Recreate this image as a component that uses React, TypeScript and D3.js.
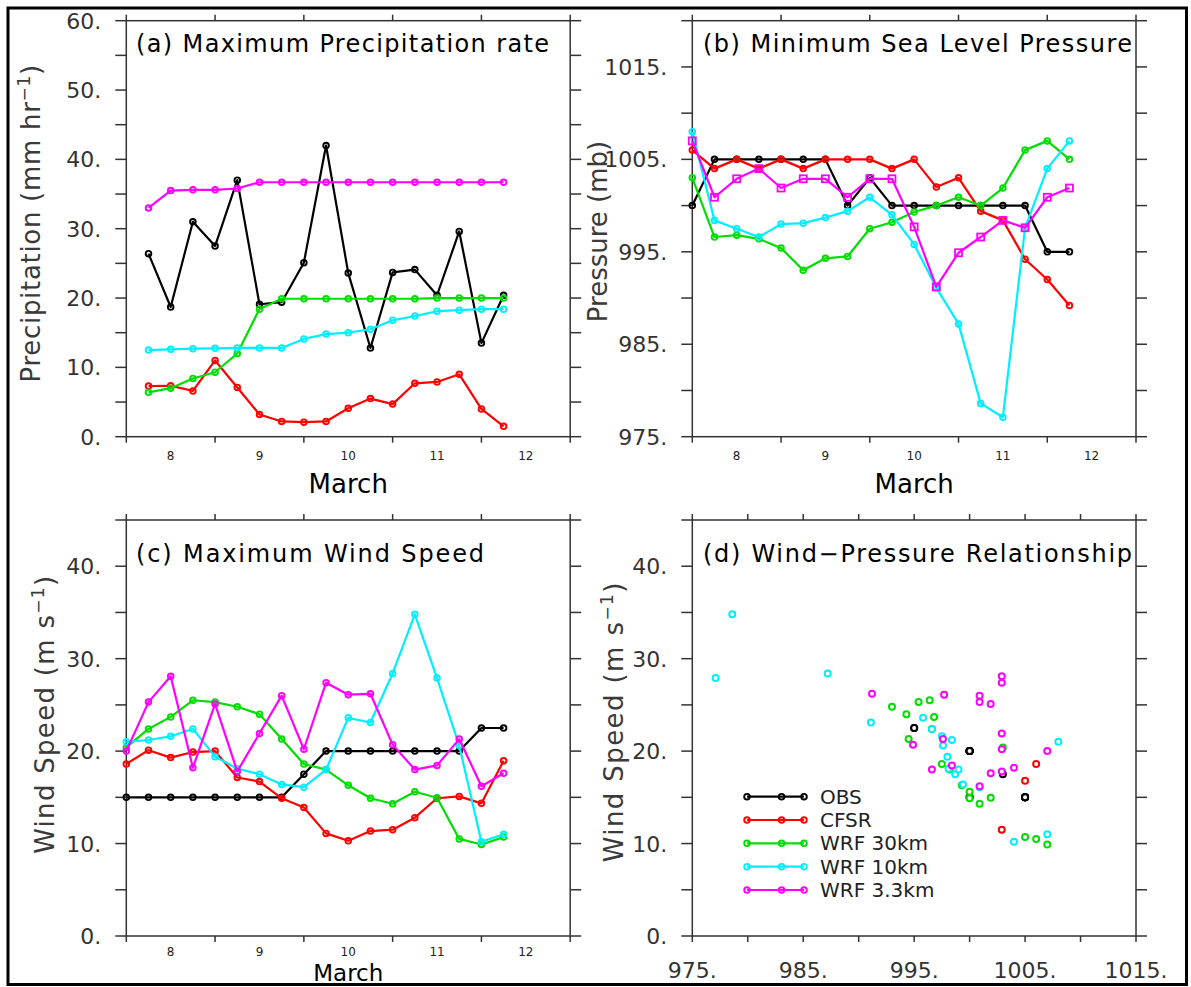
import React from 'react';
import * as d3 from 'd3';

// time axis in days of March, 6-hourly
const precipTimes = [7.75, 8.0, 8.25, 8.5, 8.75, 9.0, 9.25, 9.5, 9.75, 10.0, 10.25, 10.5, 10.75, 11.0, 11.25, 11.5, 11.75];
const stormTimes = [7.5, 7.75, 8.0, 8.25, 8.5, 8.75, 9.0, 9.25, 9.5, 9.75, 10.0, 10.25, 10.5, 10.75, 11.0, 11.25, 11.5, 11.75];
const dayLabels = [8, 9, 10, 11, 12];
const dayTicks = [7.5, 8.5, 9.5, 10.5, 11.5, 12.5];

const seriesNames = ['OBS', 'CFSR', 'WRF 30km', 'WRF 10km', 'WRF 3.3km'];
const seriesColors = ['#000000', '#ff0000', '#00dd00', '#00eeff', '#ff00ff'];

// (a) max precipitation rate, mm/hr
const obsPrecip = [26.4, 18.7, 31.0, 27.5, 37.0, 19.1, 19.4, 25.1, 42.0, 23.6, 12.8, 23.7, 24.1, 20.4, 29.6, 13.5, 20.4];
const cfsrPrecip = [7.3, 7.35, 6.6, 11.0, 7.1, 3.2, 2.2, 2.1, 2.2, 4.1, 5.5, 4.7, 7.7, 7.9, 9.0, 4.0, 1.5];
const wrf30Precip = [6.4, 7.0, 8.4, 9.3, 12.0, 18.4, 19.9, 19.9, 19.9, 19.9, 19.9, 19.9, 19.9, 20.0, 20.0, 20.0, 20.0];
const wrf10Precip = [12.5, 12.6, 12.7, 12.75, 12.8, 12.8, 12.8, 14.1, 14.8, 15.0, 15.5, 16.8, 17.4, 18.1, 18.25, 18.4, 18.4];
const wrf33Precip = [33.0, 35.5, 35.6, 35.6, 35.8, 36.7, 36.7, 36.7, 36.7, 36.7, 36.7, 36.7, 36.7, 36.7, 36.7, 36.7, 36.7];

// (b) minimum sea level pressure, mb
const obsPres = [1000, 1005, 1005, 1005, 1005, 1005, 1005, 1000, 1003, 1000, 1000, 1000, 1000, 1000, 1000, 1000, 995, 995];
const cfsrPres = [1006.0, 1004, 1005, 1004, 1005, 1004, 1005, 1005, 1005, 1004, 1005, 1002, 1003, 999.4, 998.4, 994.2, 992.0, 989.2];
const wrf30Pres = [1003.0, 996.6, 996.8, 996.4, 995.4, 993.0, 994.3, 994.5, 997.5, 998.2, 999.3, 1000, 1000.9, 1000, 1001.9, 1006, 1007, 1005];
const wrf10Pres = [1008.0, 998.4, 997.5, 996.6, 998.0, 998.1, 998.7, 999.4, 1000.9, 999.0, 995.8, 991.1, 987.2, 978.6, 977.1, 997.6, 1004.0, 1007.0];
const wrf33Pres = [1007, 1000.9, 1002.9, 1004, 1001.9, 1002.9, 1002.9, 1000.9, 1002.9, 1002.9, 997.7, 991.2, 994.9, 996.6, 998.4, 997.6, 1000.9, 1001.9];

// (c) maximum wind speed, m/s
const obsWind = [15, 15, 15, 15, 15, 15, 15, 15, 17.5, 20, 20, 20, 20, 20, 20, 20, 22.5, 22.5];
const cfsrWind = [18.6, 20.1, 19.3, 19.9, 20.0, 17.15, 16.7, 14.9, 13.9, 11.1, 10.3, 11.35, 11.5, 12.8, 14.9, 15.1, 14.35, 18.95];
const wrf30Wind = [20.4, 22.4, 23.7, 25.5, 25.3, 24.8, 24.0, 21.3, 18.6, 18.0, 16.3, 14.9, 14.3, 15.6, 14.95, 10.5, 9.9, 10.7];
const wrf10Wind = [21.0, 21.2, 21.6, 22.4, 19.4, 18.1, 17.5, 16.4, 16.1, 18.0, 23.6, 23.1, 28.4, 34.8, 27.9, 20.6, 10.2, 11.0];
const wrf33Wind = [20.0, 25.3, 28.1, 18.2, 25.1, 17.8, 21.9, 26.0, 20.2, 27.4, 26.1, 26.2, 20.7, 18.0, 18.45, 21.3, 16.2, 17.6];

// (d) CFSR points shown in the scatter
const cfsrScatterPres = [1006.0, 1005.0, 1002.9];
const cfsrScatterWind = [18.6, 16.8, 11.5];

const precipLabels = [0, 10, 20, 30, 40, 50, 60];
const pressureLabels = [975, 985, 995, 1005, 1015];
const windLabels = [0, 10, 20, 30, 40];

const FONT = '"DejaVu Sans", Verdana, sans-serif';
const AXIS = '#333';

const boxA = { l: 126.3, r: 570.2, t: 20.7, b: 436.7 };
const boxB = { l: 692.3, r: 1136, t: 20.7, b: 436.7 };
const boxC = { l: 126.3, r: 570.2, t: 520, b: 936 };
const boxD = { l: 692.3, r: 1136, t: 520, b: 936 };

type Box = typeof boxA;
type Scale = d3.ScaleLinear<number, number>;

const Frame: React.FC<{ box: Box; x: Scale; y: Scale; xTicks: number[]; yTicks: number[] }> = ({ box, x, y, xTicks, yTicks }) => (
  <g stroke={AXIS} strokeWidth={1.5} fill="none">
    <rect x={box.l} y={box.t} width={box.r - box.l} height={box.b - box.t} />
    {xTicks.map(v => (
      <g key={'x' + v}>
        <line x1={x(v)} x2={x(v)} y1={box.b} y2={box.b + 6} />
        <line x1={x(v)} x2={x(v)} y1={box.t} y2={box.t - 6} />
      </g>
    ))}
    {yTicks.map(v => (
      <g key={'y' + v}>
        <line x1={box.l - 11} x2={box.l} y1={y(v)} y2={y(v)} />
        <line x1={box.r} x2={box.r + 11} y1={y(v)} y2={y(v)} />
      </g>
    ))}
  </g>
);

const YLabels: React.FC<{ box: Box; y: Scale; values: number[] }> = ({ box, y, values }) => (
  <g fontFamily={FONT} fontSize={22} fill={AXIS} textAnchor="end">
    {values.map(v => (
      <text key={v} x={box.l - 25} y={y(v) + 8}>{v}.</text>
    ))}
  </g>
);

const DayLabels: React.FC<{ box: Box; x: Scale; dy?: number }> = ({ box, x, dy = 23 }) => (
  <g fontFamily={FONT} fontSize={12} fill="#222" textAnchor="middle">
    {dayLabels.map(d => (
      <text key={d} x={x(d)} y={box.b + dy}>{d}</text>
    ))}
  </g>
);

const Series: React.FC<{ times: number[]; values: number[]; x: Scale; y: Scale; color: string; square?: boolean }> = ({ times, values, x, y, color, square }) => {
  const line = d3.line<number>().x((_, i) => x(times[i])).y(d => y(d));
  return (
    <g>
      <path d={line(values) || ''} fill="none" stroke={color} strokeWidth={2.2} strokeLinejoin="round" />
      {values.map((v, i) =>
        square ? (
          <rect key={i} x={x(times[i]) - 3.5} y={y(v) - 3.5} width={7} height={7} fill="none" stroke={color} strokeWidth={1.8} />
        ) : (
          <circle key={i} cx={x(times[i])} cy={y(v)} r={2.8} fill="none" stroke={color} strokeWidth={1.9} />
        )
      )}
    </g>
  );
};

const Title: React.FC<{ x: number; y: number; len: number; text: string }> = ({ x, y, len, text }) => (
  <text x={x} y={y} fontFamily={FONT} fontSize={24} fill="#000" textLength={len} lengthAdjust="spacing">{text}</text>
);

const YTitle: React.FC<{ x: number; y: number; main: string; sup?: string; tail?: string; spacing: number }> = ({ x, y, main, sup, tail, spacing }) => (
  <text transform={`translate(${x},${y}) rotate(-90)`} textAnchor="middle" fontFamily={FONT} fontSize={26} fill="#3a3a3a" letterSpacing={spacing}>
    {main}
    {sup && <tspan dy={-10} fontSize={17}>{sup}</tspan>}
    {tail && <tspan dy={sup ? 10 : 0}>{tail}</tspan>}
  </text>
);

const App: React.FC = () => {
  const xA = d3.scaleLinear().domain([7.5, 12.5]).range([boxA.l, boxA.r]);
  const yA = d3.scaleLinear().domain([0, 60]).range([boxA.b, boxA.t]);
  const xB = d3.scaleLinear().domain([7.5, 12.5]).range([boxB.l, boxB.r]);
  const yB = d3.scaleLinear().domain([975, 1020]).range([boxB.b, boxB.t]);
  const xC = d3.scaleLinear().domain([7.5, 12.5]).range([boxC.l, boxC.r]);
  const yC = d3.scaleLinear().domain([0, 45]).range([boxC.b, boxC.t]);
  const xD = d3.scaleLinear().domain([975, 1015]).range([boxD.l, boxD.r]);
  const yD = d3.scaleLinear().domain([0, 45]).range([boxD.b, boxD.t]);

  const precip = [obsPrecip, cfsrPrecip, wrf30Precip, wrf10Precip, wrf33Precip];
  const pres = [obsPres, cfsrPres, wrf30Pres, wrf10Pres, wrf33Pres];
  const wind = [obsWind, cfsrWind, wrf30Wind, wrf10Wind, wrf33Wind];
  const scatterPres = [obsPres, cfsrScatterPres, wrf30Pres, wrf10Pres, wrf33Pres];
  const scatterWind = [obsWind, cfsrScatterWind, wrf30Wind, wrf10Wind, wrf33Wind];

  const legendY = [796.7, 820, 843.3, 866.7, 890];
  const legendMarks = [747, 781.6, 804];

  return (
    <div style={{ position: 'absolute', left: 0, top: 0 }}>
      <svg width={1191} height={987} style={{ display: 'block', background: '#fff' }}>
        <rect x={8} y={8} width={1178.5} height={976.5} fill="none" stroke="#000" strokeWidth={3} />

        {/* (a) precipitation */}
        <Frame box={boxA} x={xA} y={yA} xTicks={dayTicks} yTicks={d3.range(0, 61, 5)} />
        <YLabels box={boxA} y={yA} values={precipLabels} />
        <DayLabels box={boxA} x={xA} />
        {precip.map((vals, i) => (
          <Series key={i} times={precipTimes} values={vals} x={xA} y={yA} color={seriesColors[i]} />
        ))}
        <Title x={136} y={52} len={413} text="(a) Maximum Precipitation rate" />
        <YTitle x={40} y={223.3} main="Precipitation (mm hr" sup="−1" tail=")" spacing={0.7} />
        <text x={(boxA.l + boxA.r) / 2} y={493} textAnchor="middle" fontFamily={FONT} fontSize={26} fill="#000">March</text>

        {/* (b) pressure */}
        <Frame box={boxB} x={xB} y={yB} xTicks={dayTicks} yTicks={d3.range(975, 1021, 5)} />
        <YLabels box={boxB} y={yB} values={pressureLabels} />
        <DayLabels box={boxB} x={xB} />
        {pres.map((vals, i) => (
          <Series key={i} times={stormTimes} values={vals} x={xB} y={yB} color={seriesColors[i]} square={i === 4} />
        ))}
        <Title x={703} y={52} len={429} text="(b) Minimum Sea Level Pressure" />
        <YTitle x={607} y={231.5} main="Pressure (mb)" spacing={0} />
        <text x={(boxB.l + boxB.r) / 2} y={493} textAnchor="middle" fontFamily={FONT} fontSize={26} fill="#000">March</text>

        {/* (c) wind speed */}
        <Frame box={boxC} x={xC} y={yC} xTicks={dayTicks} yTicks={d3.range(0, 46, 5)} />
        <YLabels box={boxC} y={yC} values={windLabels} />
        <DayLabels box={boxC} x={xC} dy={19.5} />
        {wind.map((vals, i) => (
          <Series key={i} times={stormTimes} values={vals} x={xC} y={yC} color={seriesColors[i]} />
        ))}
        <Title x={136} y={561.5} len={348} text="(c) Maximum Wind Speed" />
        <YTitle x={53.6} y={714.2} main="Wind Speed (m s" sup="−1" tail=")" spacing={1.3} />
        <text x={(boxC.l + boxC.r) / 2} y={980.5} textAnchor="middle" fontFamily={FONT} fontSize={23} fill="#000">March</text>

        {/* (d) wind-pressure relationship */}
        <Frame box={boxD} x={xD} y={yD} xTicks={d3.range(975, 1016, 5)} yTicks={d3.range(0, 46, 5)} />
        <YLabels box={boxD} y={yD} values={windLabels} />
        <g fontFamily={FONT} fontSize={22} fill={AXIS} textAnchor="middle">
          {pressureLabels.map(v => (
            <text key={v} x={xD(v)} y={boxD.b + 42.3}>{v}.</text>
          ))}
        </g>
        {scatterPres.map((ps, i) => (
          <g key={i}>
            {ps.map((p, j) => (
              <circle key={j} cx={xD(p)} cy={yD(scatterWind[i][j])} r={3} fill="#fff" stroke={seriesColors[i]} strokeWidth={2} />
            ))}
          </g>
        ))}
        <Title x={703} y={561.5} len={429} text="(d) Wind−Pressure Relationship" />
        <YTitle x={622.6} y={721.7} main="Wind Speed (m s" sup="−1" tail=")" spacing={1.4} />

        {/* legend */}
        {seriesNames.map((name, i) => (
          <g key={name}>
            <line x1={legendMarks[0]} x2={legendMarks[2]} y1={legendY[i]} y2={legendY[i]} stroke={seriesColors[i]} strokeWidth={2.2} />
            {legendMarks.map(mx => (
              <circle key={mx} cx={mx} cy={legendY[i]} r={2.8} fill="none" stroke={seriesColors[i]} strokeWidth={1.9} />
            ))}
            <text x={820} y={legendY[i] + 7} fontFamily={FONT} fontSize={20} fill="#222">{name}</text>
          </g>
        ))}
      </svg>
    </div>
  );
};

export default App;
